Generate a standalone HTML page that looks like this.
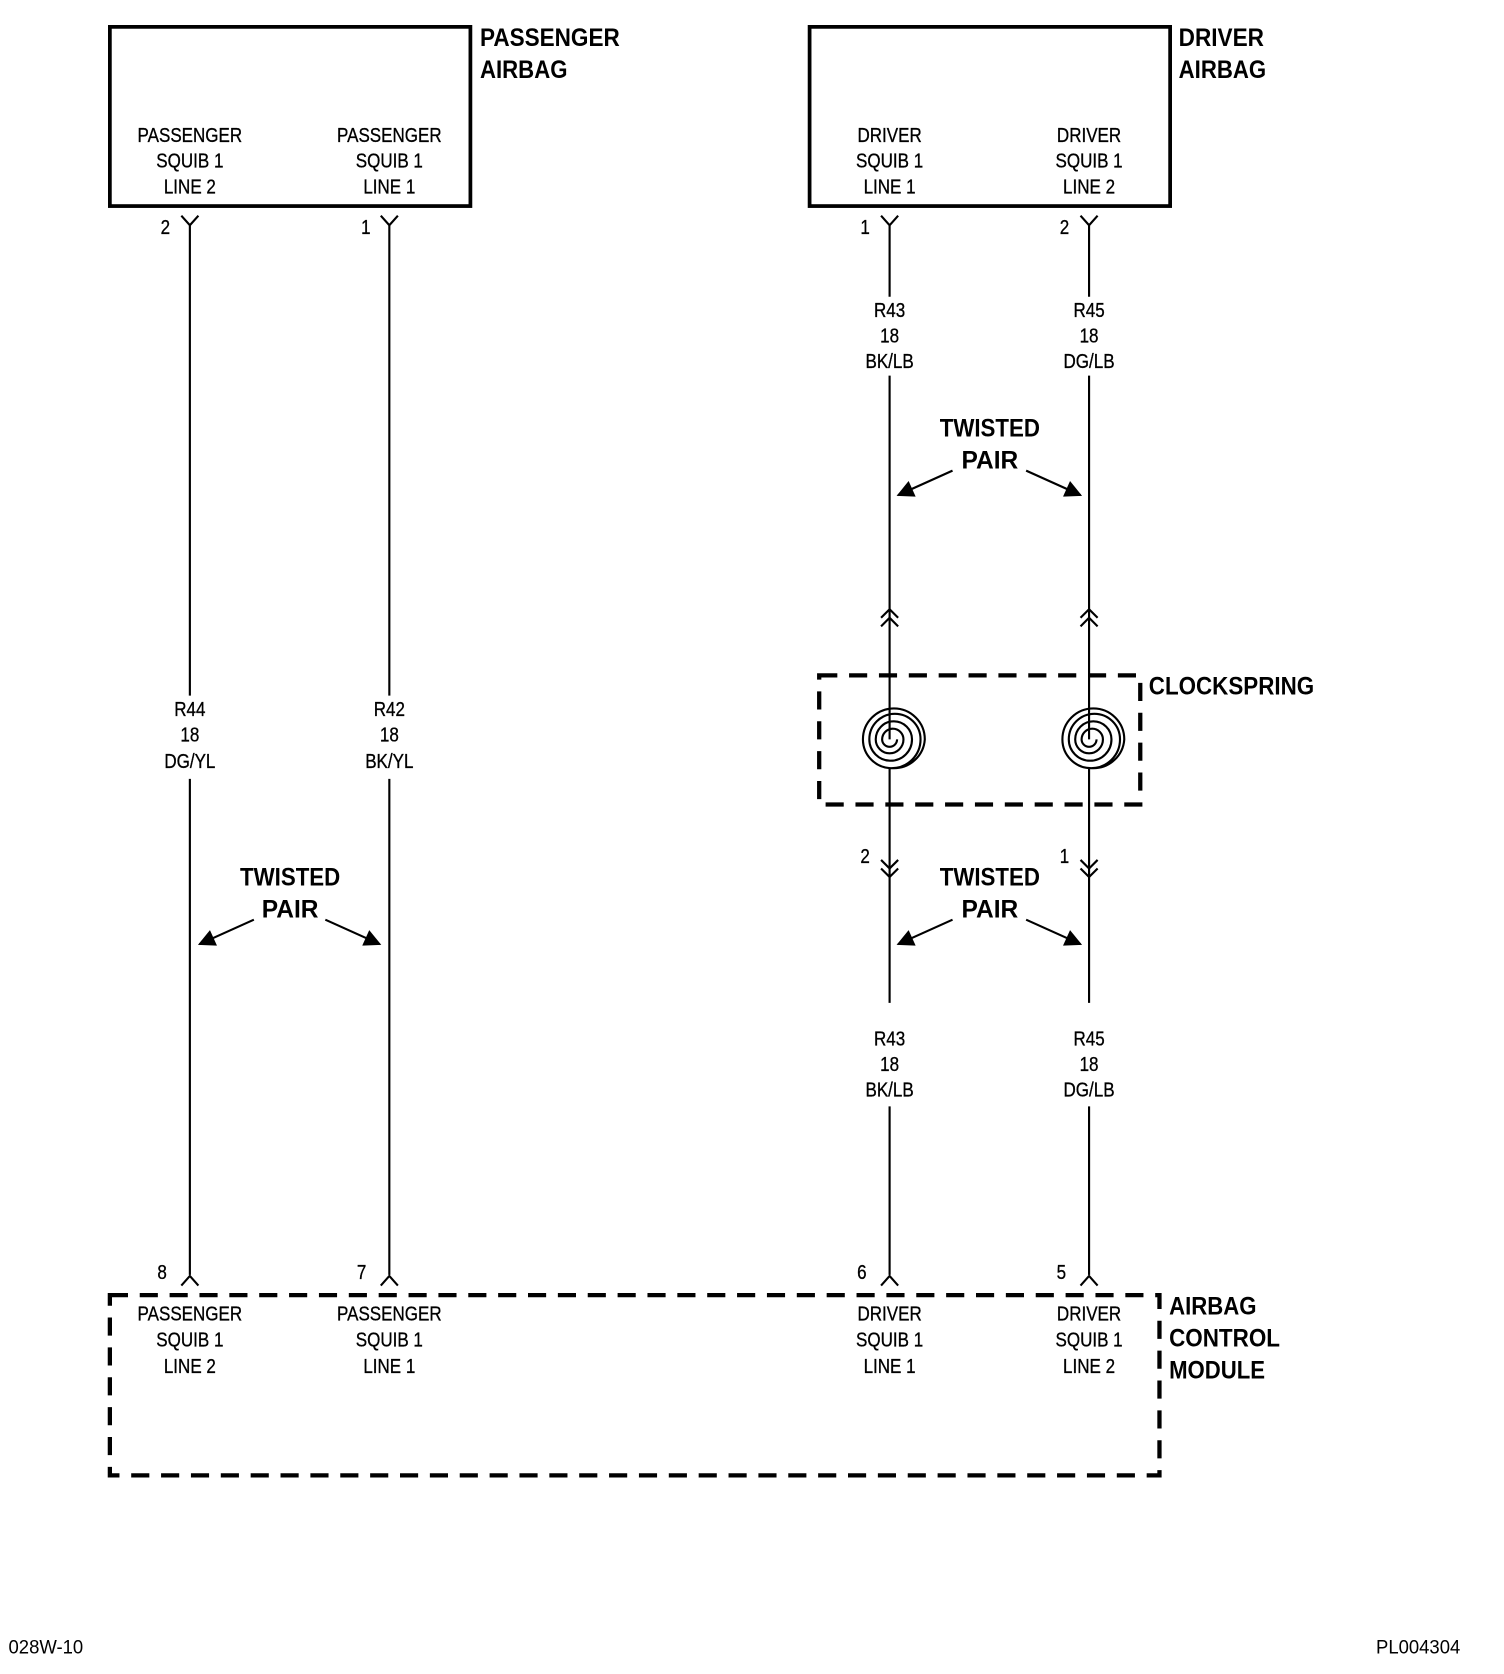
<!DOCTYPE html>
<html><head><style>
html,body{margin:0;padding:0;background:#fff}
svg{display:block}
text{font-family:"Liberation Sans",sans-serif;fill:#000}
.s{font-size:19px;text-anchor:middle;transform-box:fill-box;transform-origin:center;transform:scaleX(0.84);stroke:#000;stroke-width:0.3}
.b{font-size:23px;font-weight:bold}
.bc{font-size:23px;font-weight:bold;text-anchor:middle}
</style></head><body>
<svg width="1504" height="1674" viewBox="0 0 1410 1569" xmlns="http://www.w3.org/2000/svg">
<defs>
<marker id="ah2" viewBox="0 0 10 10" markerWidth="20" markerHeight="16" refX="9" refY="5" orient="auto" markerUnits="userSpaceOnUse">
<path d="M0,0 L10,5 L0,10 z" fill="#000"/></marker>
</defs>
<g fill="none" stroke="#000">
<rect x="103" y="25" width="338" height="168" stroke-width="3.5"/>
<rect x="759" y="25" width="338" height="168" stroke-width="3.5"/>
<rect x="768" y="633" width="301" height="121" stroke-width="4" stroke-dasharray="17,11"/>
<rect x="103" y="1214" width="984" height="169" stroke-width="4" stroke-dasharray="17,11"/>
<g stroke-width="2">
<path d="M170,202 L178,211 L186,202 M178,211 V652 M178,730 V1195 M170,1205 L178,1196 L186,1205"/>
<path d="M357,202 L365,211 L373,202 M365,211 V652 M365,730 V1195 M357,1205 L365,1196 L373,1205"/>
<path d="M826,202 L834,211 L842,202 M834,211 V278 M834,352 V693 M834,720 V940 M834,1037 V1195 M826,1205 L834,1196 L842,1205"/>
<path d="M1013,202 L1021,211 L1029,202 M1021,211 V278 M1021,352 V693 M1021,720 V940 M1021,1037 V1195 M1013,1205 L1021,1196 L1029,1205"/>
<path d="M826,579 L834,571 L842,579 M826,587 L834,579 L842,587"/>
<path d="M1013,579 L1021,571 L1029,579 M1013,587 L1021,579 L1029,587"/>
<path d="M826,806 L834,814 L842,806 M826,814 L834,822 L842,814"/>
<path d="M1013,806 L1021,814 L1029,806 M1013,814 L1021,822 L1029,814"/>
<g transform="translate(834,693)">
<path d="M0,0 m7,0 a7,7 0 1 1 -14,0 a10,10 0 0 1 20,0 a13,13 0 0 1 -26,0 a17,17 0 0 1 34,0 a20,20 0 0 1 -40,0 a24,24 0 0 1 48,0 a27,27 0 0 1 -54,0 a29,29 0 0 1 58,0 a29,29 0 0 1 -29,27"/>
</g>
<g transform="translate(1021,693)">
<path d="M0,0 m7,0 a7,7 0 1 1 -14,0 a10,10 0 0 1 20,0 a13,13 0 0 1 -26,0 a17,17 0 0 1 34,0 a20,20 0 0 1 -40,0 a24,24 0 0 1 48,0 a27,27 0 0 1 -54,0 a29,29 0 0 1 58,0 a29,29 0 0 1 -29,27"/>
</g>
<line x1="238" y1="862" x2="187" y2="885" marker-end="url(#ah2)"/>
<line x1="305" y1="862" x2="356" y2="885" marker-end="url(#ah2)"/>
<line x1="893" y1="441" x2="842" y2="464" marker-end="url(#ah2)"/>
<line x1="962" y1="441" x2="1013" y2="464" marker-end="url(#ah2)"/>
<line x1="893" y1="862" x2="842" y2="885" marker-end="url(#ah2)"/>
<line x1="962" y1="862" x2="1013" y2="885" marker-end="url(#ah2)"/>
</g>
</g>
<text class="b" x="450" y="43" textLength="131" lengthAdjust="spacingAndGlyphs">PASSENGER</text>
<text class="b" x="450" y="73" textLength="82" lengthAdjust="spacingAndGlyphs">AIRBAG</text>
<text class="b" x="1105" y="43" textLength="80" lengthAdjust="spacingAndGlyphs">DRIVER</text>
<text class="b" x="1105" y="73" textLength="82" lengthAdjust="spacingAndGlyphs">AIRBAG</text>
<text class="b" x="1077" y="651" textLength="155" lengthAdjust="spacingAndGlyphs">CLOCKSPRING</text>
<text class="b" x="1096" y="1232" textLength="82" lengthAdjust="spacingAndGlyphs">AIRBAG</text>
<text class="b" x="1096" y="1262" textLength="104" lengthAdjust="spacingAndGlyphs">CONTROL</text>
<text class="b" x="1096" y="1292" textLength="90" lengthAdjust="spacingAndGlyphs">MODULE</text>

<text class="s" x="178" y="133">PASSENGER</text><text class="s" x="178" y="157">SQUIB 1</text><text class="s" x="178" y="181">LINE 2</text>
<text class="s" x="365" y="133">PASSENGER</text><text class="s" x="365" y="157">SQUIB 1</text><text class="s" x="365" y="181">LINE 1</text>
<text class="s" x="834" y="133">DRIVER</text><text class="s" x="834" y="157">SQUIB 1</text><text class="s" x="834" y="181">LINE 1</text>
<text class="s" x="1021" y="133">DRIVER</text><text class="s" x="1021" y="157">SQUIB 1</text><text class="s" x="1021" y="181">LINE 2</text>

<text class="s" x="178" y="1238">PASSENGER</text><text class="s" x="178" y="1262">SQUIB 1</text><text class="s" x="178" y="1287">LINE 2</text>
<text class="s" x="365" y="1238">PASSENGER</text><text class="s" x="365" y="1262">SQUIB 1</text><text class="s" x="365" y="1287">LINE 1</text>
<text class="s" x="834" y="1238">DRIVER</text><text class="s" x="834" y="1262">SQUIB 1</text><text class="s" x="834" y="1287">LINE 1</text>
<text class="s" x="1021" y="1238">DRIVER</text><text class="s" x="1021" y="1262">SQUIB 1</text><text class="s" x="1021" y="1287">LINE 2</text>

<text class="s" x="178" y="671">R44</text><text class="s" x="178" y="695">18</text><text class="s" x="178" y="720">DG/YL</text>
<text class="s" x="365" y="671">R42</text><text class="s" x="365" y="695">18</text><text class="s" x="365" y="720">BK/YL</text>
<text class="s" x="834" y="297">R43</text><text class="s" x="834" y="321">18</text><text class="s" x="834" y="345">BK/LB</text>
<text class="s" x="1021" y="297">R45</text><text class="s" x="1021" y="321">18</text><text class="s" x="1021" y="345">DG/LB</text>
<text class="s" x="834" y="980">R43</text><text class="s" x="834" y="1004">18</text><text class="s" x="834" y="1028">BK/LB</text>
<text class="s" x="1021" y="980">R45</text><text class="s" x="1021" y="1004">18</text><text class="s" x="1021" y="1028">DG/LB</text>

<text class="s" x="155" y="219">2</text><text class="s" x="343" y="219">1</text>
<text class="s" x="811" y="219">1</text><text class="s" x="998" y="219">2</text>
<text class="s" x="811" y="809">2</text><text class="s" x="998" y="809">1</text>
<text class="s" x="152" y="1199">8</text><text class="s" x="339" y="1199">7</text>
<text class="s" x="808" y="1199">6</text><text class="s" x="995" y="1199">5</text>

<text class="bc" x="272" y="830" textLength="94" lengthAdjust="spacingAndGlyphs">TWISTED</text>
<text class="bc" x="272" y="860">PAIR</text>
<text class="bc" x="928" y="409" textLength="94" lengthAdjust="spacingAndGlyphs">TWISTED</text>
<text class="bc" x="928" y="439">PAIR</text>
<text class="bc" x="928" y="830" textLength="94" lengthAdjust="spacingAndGlyphs">TWISTED</text>
<text class="bc" x="928" y="860">PAIR</text>

<text x="8" y="1550" style="font-size:18px" textLength="70" lengthAdjust="spacingAndGlyphs">028W-10</text>
<text x="1290" y="1550" style="font-size:18px" textLength="79" lengthAdjust="spacingAndGlyphs">PL004304</text>
</svg>
</body></html>
